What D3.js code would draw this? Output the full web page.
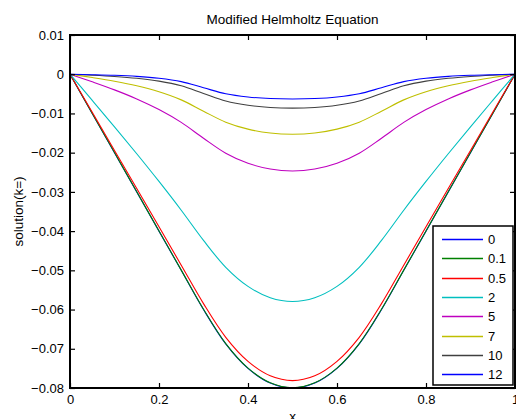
<!DOCTYPE html>
<html>
<head>
<meta charset="utf-8">
<script src="https://cdn.jsdelivr.net/npm/d3@7"></script>
<style>
  body { margin: 0; background: #fff; }
  svg text { font-family: "Liberation Sans", Arial, sans-serif; fill: #000; }
</style>
</head>
<body>
<svg id="chart" width="516" height="419"></svg>
<script>
// x grid the curves were read at
const xValues = [0, 0.05, 0.1, 0.15, 0.2, 0.25, 0.3, 0.35, 0.4, 0.45, 0.5,
                 0.55, 0.6, 0.65, 0.7, 0.75, 0.8, 0.85, 0.9, 0.95, 1];

const kLabels = ["0", "0.1", "0.5", "2", "5", "7", "10", "12"];
const kColors = ["#0000ff", "#008000", "#ff0000", "#00bfbf", "#bf00bf", "#bfbf00", "#404040", "#0000ff"];

const solK0   = [0, -0.01, -0.02, -0.03, -0.04, -0.05, -0.06, -0.06875, -0.075, -0.07875, -0.08,
                 -0.07875, -0.075, -0.06875, -0.06, -0.05, -0.04, -0.03, -0.02, -0.01, 0];
const solK01  = [0, -0.00999, -0.01998, -0.02997, -0.03996, -0.04995, -0.05994, -0.06869, -0.07493, -0.07867, -0.07992,
                 -0.07867, -0.07493, -0.06869, -0.05994, -0.04995, -0.03996, -0.02997, -0.01998, -0.00999, 0];
const solK05  = [0, -0.00971, -0.01943, -0.02916, -0.03891, -0.04869, -0.05849, -0.06708, -0.07321, -0.07689, -0.07811,
                 -0.07689, -0.07321, -0.06708, -0.05849, -0.04869, -0.03891, -0.02916, -0.01943, -0.00971, 0];
const solK2   = [0, -0.00667, -0.0134, -0.02027, -0.02734, -0.03468, -0.04237, -0.04923, -0.05409, -0.05698, -0.05794,
                 -0.05698, -0.05409, -0.04923, -0.04237, -0.03468, -0.02734, -0.02027, -0.0134, -0.00667, 0];
const solK5   = [0, -0.00194, -0.00399, -0.0063, -0.00901, -0.01228, -0.01632, -0.02013, -0.0227, -0.02417, -0.02466,
                 -0.02417, -0.0227, -0.02013, -0.01632, -0.01228, -0.00901, -0.0063, -0.00399, -0.00194, 0];
const solK7   = [0, -0.00084, -0.00178, -0.00294, -0.00447, -0.00654, -0.00943, -0.01222, -0.014, -0.01499, -0.0153,
                 -0.01499, -0.014, -0.01222, -0.00943, -0.00654, -0.00447, -0.00294, -0.00178, -0.00084, 0];
const solK10  = [0, -0.00025, -0.00057, -0.00104, -0.00177, -0.00296, -0.0049, -0.00681, -0.00791, -0.00847, -0.00864,
                 -0.00847, -0.00791, -0.00681, -0.0049, -0.00296, -0.00177, -0.00104, -0.00057, -0.00025, 0];
const solK12  = [0, -0.00012, -0.00028, -0.00055, -0.00103, -0.00189, -0.00344, -0.00499, -0.0058, -0.0062, -0.00631,
                 -0.0062, -0.0058, -0.00499, -0.00344, -0.00189, -0.00103, -0.00055, -0.00028, -0.00012, 0];

const xTicks = [0, 0.2, 0.4, 0.6, 0.8, 1];
const yTicks = [0.01, 0, -0.01, -0.02, -0.03, -0.04, -0.05, -0.06, -0.07, -0.08];

const series = [solK0, solK01, solK05, solK2, solK5, solK7, solK10, solK12].map((ys, i) => ({
  label: kLabels[i],
  color: kColors[i],
  points: ys.map((y, j) => [xValues[j], y])
}));

const svg = d3.select("#chart");
const plot = { left: 70, top: 35, right: 515, bottom: 388 };

const x = d3.scaleLinear().domain([0, 1]).range([plot.left, plot.right]);
const y = d3.scaleLinear().domain([-0.08, 0.01]).range([plot.bottom, plot.top]);

const fmtY = d => d === 0 ? "0" : d3.format(".2f")(d);
const fmtX = d => d === 0 ? "0" : (d === 1 ? "1" : d3.format(".1f")(d));

// curves
const line = d3.line()
  .x(d => x(d[0]))
  .y(d => y(d[1]))
  .curve(d3.curveCatmullRom.alpha(0.5));

svg.append("g")
  .selectAll("path")
  .data(series)
  .enter()
  .append("path")
  .attr("d", d => line(d.points))
  .attr("fill", "none")
  .attr("stroke", d => d.color)
  .attr("stroke-width", 1.1);

// axes, ticks pointing inward on all four sides
const axStyle = g => {
  g.select(".domain").remove();
  g.selectAll(".tick line").attr("stroke", "#000").attr("stroke-width", 1.2);
  g.selectAll(".tick text").attr("font-size", 13).attr("fill", "#000");
};

svg.append("g")
  .attr("transform", `translate(0,${plot.bottom})`)
  .call(d3.axisBottom(x).tickValues(xTicks).tickFormat(fmtX).tickSize(-5).tickPadding(7))
  .call(axStyle);

svg.append("g")
  .attr("transform", `translate(0,${plot.top})`)
  .call(d3.axisTop(x).tickValues(xTicks).tickFormat("").tickSize(-5))
  .call(axStyle);

svg.append("g")
  .attr("transform", `translate(${plot.left},0)`)
  .call(d3.axisLeft(y).tickValues(yTicks).tickFormat(fmtY).tickSize(-5).tickPadding(6))
  .call(axStyle);

svg.append("g")
  .attr("transform", `translate(${plot.right},0)`)
  .call(d3.axisRight(y).tickValues(yTicks).tickFormat("").tickSize(-5))
  .call(axStyle);

svg.append("rect")
  .attr("x", plot.left)
  .attr("y", plot.top)
  .attr("width", plot.right - plot.left)
  .attr("height", plot.bottom - plot.top)
  .attr("fill", "none")
  .attr("stroke", "#000")
  .attr("stroke-width", 2);

// title and labels
svg.append("text")
  .attr("x", (plot.left + plot.right) / 2)
  .attr("y", 24)
  .attr("text-anchor", "middle")
  .attr("font-size", 13.5)
  .text("Modified Helmholtz Equation");

svg.append("text")
  .attr("x", (plot.left + plot.right) / 2)
  .attr("y", 421)
  .attr("text-anchor", "middle")
  .attr("font-size", 13.5)
  .text("x");

svg.append("text")
  .attr("transform", `translate(23,${(plot.top + plot.bottom) / 2}) rotate(-90)`)
  .attr("text-anchor", "middle")
  .attr("font-size", 13.5)
  .text("solution(k=)");

// legend
const leg = { x: 433, y: 226, w: 80, h: 159, row: 19.3 };
const legend = svg.append("g");
legend.append("rect")
  .attr("x", leg.x)
  .attr("y", leg.y)
  .attr("width", leg.w)
  .attr("height", leg.h)
  .attr("fill", "#fff")
  .attr("stroke", "#000")
  .attr("stroke-width", 1.5);

// snap each row to a pixel row so the sample lines stay even
const items = legend.selectAll("g.item")
  .data(series)
  .enter()
  .append("g")
  .attr("class", "item")
  .attr("transform", (d, i) => `translate(${leg.x},${Math.round(leg.y + 13 + i * leg.row) + 0.5})`);

items.append("line")
  .attr("x1", 9)
  .attr("x2", 50)
  .attr("stroke", d => d.color)
  .attr("stroke-width", 1.5);

items.append("text")
  .attr("x", 55)
  .attr("dy", "0.36em")
  .attr("font-size", 13)
  .text(d => d.label);
</script>
</body>
</html>
